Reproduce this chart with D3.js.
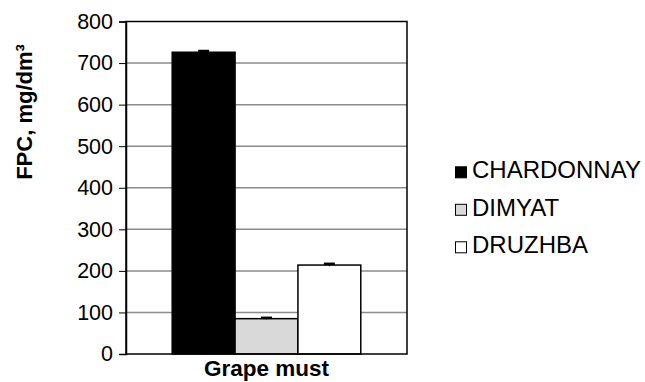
<!DOCTYPE html>
<html><head><meta charset="utf-8">
<script src="https://cdn.jsdelivr.net/npm/d3@7/dist/d3.min.js"></script>
<style>body{margin:0;background:#fff}svg{display:block}text{font-family:"Liberation Sans",Arial,sans-serif}</style>
</head><body>
<svg id="c" width="645" height="382"></svg>
<script>
const categories = ["Grape must"];
const seriesNames = ["CHARDONNAY", "DIMYAT", "DRUZHBA"];
const seriesValues = [726, 85, 214];
const seriesErrors = [3, 2, 3];
const yTicks = [0, 100, 200, 300, 400, 500, 600, 700, 800];
const fills = ["#000000", "#d9d9d9", "#ffffff"];

const svg = d3.select("#c");
const m = {l:126, r:407, t:21.5, b:354};
const y = d3.scaleLinear().domain([0, 800]).range([m.b, m.t]);
const x0 = d3.scaleBand().domain(categories).range([m.l, m.r]).paddingInner(0).paddingOuter(0.245);
const x1 = d3.scaleBand().domain(seriesNames).range([0, x0.bandwidth()]).padding(0);

// gridlines
svg.append("g").selectAll("line").data(yTicks.filter(d=>d>0&&d<800)).join("line")
  .attr("x1", m.l).attr("x2", m.r).attr("y1", d=>y(d)).attr("y2", d=>y(d))
  .attr("stroke", "#8c8c8c").attr("stroke-width", 1.5);

// bars
const data = seriesNames.map((s,i)=>({s, v:seriesValues[i], e:seriesErrors[i], f:fills[i]}));
const g = svg.append("g");
categories.forEach(c=>{
  g.selectAll("rect.b").data(data).join("rect").attr("class","b")
    .attr("x", d=>x0(c)+x1(d.s)).attr("width", x1.bandwidth())
    .attr("y", d=>y(d.v)).attr("height", d=>y(0)-y(d.v))
    .attr("fill", d=>d.f).attr("stroke", "#000").attr("stroke-width", 1.5);
  g.selectAll("line.ev").data(data).join("line").attr("class","ev")
    .attr("x1", d=>x0(c)+x1(d.s)+x1.bandwidth()/2).attr("x2", d=>x0(c)+x1(d.s)+x1.bandwidth()/2)
    .attr("y1", d=>y(d.v+d.e)).attr("y2", d=>y(d.v-d.e)).attr("stroke","#000").attr("stroke-width",1);
  g.selectAll("line.ec").data(data).join("line").attr("class","ec")
    .attr("x1", d=>x0(c)+x1(d.s)+x1.bandwidth()/2-5.5).attr("x2", d=>x0(c)+x1(d.s)+x1.bandwidth()/2+5.5)
    .attr("y1", d=>y(d.v+d.e)).attr("y2", d=>y(d.v+d.e)).attr("stroke","#000").attr("stroke-width",2.5);
});

// plot border
svg.append("rect").attr("x", m.l).attr("y", m.t).attr("width", m.r-m.l).attr("height", m.b-m.t)
  .attr("fill","none").attr("stroke","#000").attr("stroke-width",1.5);

// y axis
const ya = svg.append("g").attr("transform", `translate(${m.l},0)`)
  .call(d3.axisLeft(y).tickValues(yTicks).tickSize(7).tickPadding(6).tickFormat(d3.format("d")));
ya.select(".domain").attr("stroke","#000").attr("stroke-width",1.5);
ya.selectAll(".tick line").attr("stroke","#000").attr("stroke-width",1);
ya.selectAll(".tick text").attr("font-size", 21.5).attr("fill","#000").attr("font-family",'"Liberation Sans",Arial,sans-serif');

// x label
svg.append("text").attr("x", x0(categories[0])+x0.bandwidth()/2).attr("y", 376)
  .attr("text-anchor","middle").attr("font-size", 22.5).attr("font-weight","bold").text(categories[0]);

// y title
svg.append("text").attr("transform", "translate(32,112) rotate(-90)")
  .attr("text-anchor","middle").attr("font-size", 22).attr("font-weight","bold").text("FPC, mg/dm³");

// legend
const lg = svg.append("g").selectAll("g").data(data).join("g")
  .attr("transform", (d,i)=>`translate(455,${178.3+i*37.5})`);
lg.append("rect").attr("x",0.5).attr("y",-11.5).attr("width",11).attr("height",11)
  .attr("fill", d=>d.f).attr("stroke","#000").attr("stroke-width",1);
lg.append("text").attr("x",17).attr("y",0).attr("font-size",24).text(d=>d.s);
</script>
</body></html>
